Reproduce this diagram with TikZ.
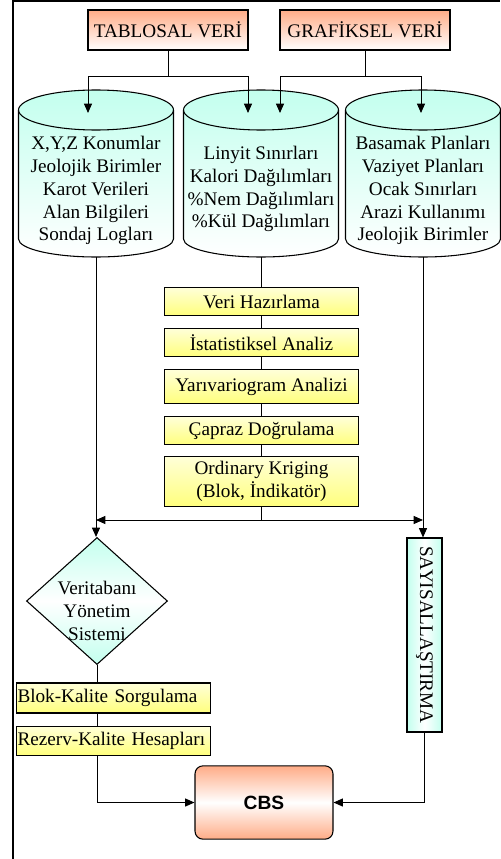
\documentclass[tikz,border=0pt]{standalone}
\usepackage{fontspec}
\setmainfont{Liberation Serif}
\newfontfamily\cbsfont{Liberation Sans}
\usetikzlibrary{arrows.meta,positioning,shapes.geometric}
\definecolor{somon}{RGB}{255,172,135}
\definecolor{camgobegi}{RGB}{195,255,238}
\definecolor{sari}{RGB}{255,255,125}

\begin{document}
\begin{tikzpicture}[x=0.75pt,y=-0.75pt,node distance=9pt,
  font=\fontsize{14.4}{17.2}\selectfont,
  ob/.style={draw,line width=0.8pt,top color=somon,bottom color=white,minimum height=30pt,inner sep=1pt},
  cyl/.style={draw,line width=0.8pt,top color=camgobegi,bottom color=white},
  cyltxt/.style={align=center,inner sep=0pt},
  yel/.style={draw,line width=0.8pt,top color=sari!30,bottom color=sari,minimum width=145pt,minimum height=21pt,inner sep=1pt,align=center},
  dia/.style={diamond,draw,line width=0.8pt,top color=camgobegi,bottom color=camgobegi,middle color=white,minimum width=105.75pt,minimum height=95.25pt,inner sep=0pt},
  vbox/.style={draw,line width=0.8pt,left color=camgobegi,right color=camgobegi,middle color=white,minimum width=145.5pt,minimum height=26.25pt,inner sep=0pt},
  cbsb/.style={draw,line width=0.8pt,rounded corners=6pt,top color=somon,bottom color=somon,middle color=white,minimum width=103.5pt,minimum height=55pt},
  f/.style={-{Triangle[length=7pt,width=6pt]},line width=0.75pt},
  ln/.style={line width=0.75pt}]
\useasboundingbox (0,0) rectangle (500,859);
\draw[line width=0.8pt] (13,859) -- (13,1) -- (500,1);
% veri kaynaklari
\node[ob,minimum width=120pt] (tab) at (168,30) {TABLOSAL VERİ};
\node[ob,minimum width=127.5pt] (graf) at (365,30) {GRAFİKSEL VERİ};
% veritabani silindirleri
\foreach \cx/\n in {96/kon,261/lin,423/pln}{
  \path[cyl] (\cx-77.5,110) -- (\cx-77.5,239)
    arc[start angle=180,end angle=0,x radius=77.5,y radius=18] -- (\cx+77.5,110)
    arc[start angle=0,end angle=-180,x radius=77.5,y radius=20] -- cycle;
  \draw[line width=0.8pt] (\cx-77.5,110) arc[start angle=180,end angle=0,x radius=77.5,y radius=20];
  \coordinate (\n-alt) at (\cx,257);
}
\node[cyltxt] (kon) at (96,190.5) {X,Y,Z Konumlar\\Jeolojik Birimler\\Karot Verileri\\Alan Bilgileri\\Sondaj Logları};
\node[cyltxt] (lin) at (261,189) {Linyit Sınırları\\Kalori Dağılımları\\\%Nem Dağılımları\\\%Kül Dağılımları};
\node[cyltxt] (pln) at (423,190.5) {Basamak Planları\\Vaziyet Planları\\Ocak Sınırları\\Arazi Kullanımı\\Jeolojik Birimler};
\coordinate (kon-in) at (88,113);
\coordinate (lin-in1) at (248,113);
\coordinate (lin-in2) at (280,113);
\coordinate (pln-in) at (421,113);
\draw[f] (tab.south) -- ++(0,26) -| (kon-in);
\draw[f] (tab.south) -- ++(0,26) -| (lin-in1);
\draw[f] (graf.south) -- ++(0,26) -| (lin-in2);
\draw[f] (graf.south) -- ++(0,26) -| (pln-in);
% jeoistatistik adimlari
\node[yel] (vh) at (261.5,301.5) {Veri Hazırlama};
\node[yel,below=of vh] (ia) {İstatistiksel Analiz};
\node[yel,below=of ia,minimum height=25.5pt] (ya) {Yarıvariogram Analizi};
\node[yel,below=of ya] (cd) {Çapraz Doğrulama};
\node[yel,below=8pt of cd,minimum height=37.5pt] (ok) {Ordinary Kriging\\(Blok, İndikatör)};
\draw[ln] (lin-alt) -- (lin-alt |- vh.north);
\draw[ln] (vh) -- (ia) (ia) -- (ya) (ya) -- (cd) (cd) -- (ok);
% veritabani ve sayisallastirma
\node[dia,label={[align=center,yshift=-7.5pt]center:Veritabanı\\Yönetim\\Sistemi}] (vt) at (97,601) {};
\node[vbox,rotate=-90] (say) at (424.5,635) {SAYISALLAŞTIRMA};
\coordinate (kl) at (kon-alt |- 0,520);
\coordinate (kr) at (pln-alt |- 0,520);
\draw[f] (kon-alt) -- (kon-alt |- vt.north);
\draw[f] (pln-alt) -- (pln-alt |- say.west);
\draw[f] (ok.south) |- (kl);
\draw[f] (ok.south) |- (kr);
\node[yel,text width=144pt,inner xsep=1pt,align=left,minimum height=22.5pt] (bk) at (113.5,698) {Blok-Kalite Sorgulama};
\node[yel,text width=144pt,inner xsep=1pt,align=left,minimum height=21.75pt,below=of bk] (rz) {Rezerv-Kalite Hesapları};
\node[cbsb] (cbs) at (264,802.5) {\cbsfont\bfseries CBS};
\draw[ln] (vt.south) -- (vt.south |- bk.north);
\draw[ln] (vt.south |- bk.south) -- (vt.south |- rz.north);
\draw[f] (vt.south |- rz.south) |- (cbs.west);
\draw[f] (say.east) |- (cbs.east);
\end{tikzpicture}
\end{document}
